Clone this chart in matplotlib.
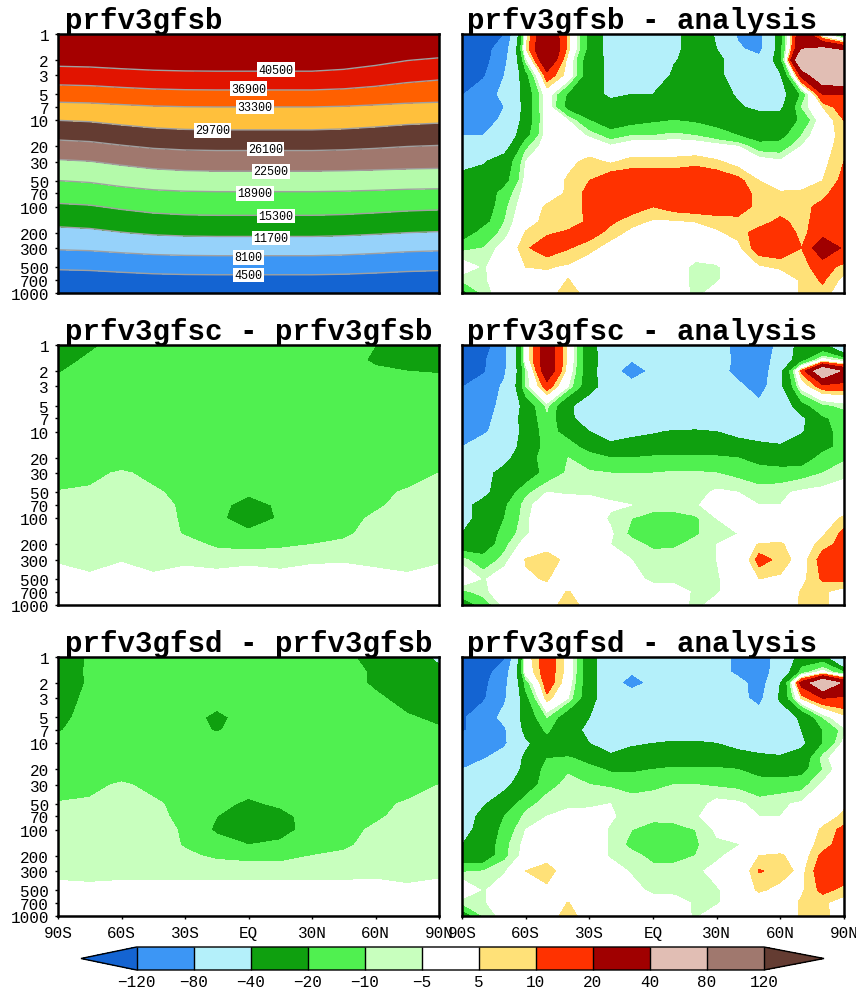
import numpy as np
import matplotlib
matplotlib.use("Agg")
import matplotlib.pyplot as plt
from matplotlib.colors import ListedColormap, BoundaryNorm

W, H = 856, 995

# pressure (hPa) and latitude axes
tick_p = [1, 2, 3, 5, 7, 10, 20, 30, 50, 70, 100, 200, 300, 500, 700, 1000]
tick_lat = [-90, -60, -30, 0, 30, 60, 90]
tick_lat_labels = ["90S", "60S", "30S", "EQ", "30N", "60N", "90N"]

lat_h = [-90, -75, -60, -45, -30, -15, 0, 15, 30, 45, 60, 75, 90]
lat_fine = [-90, -80, -70, -60, -50, -40, -30, -20, -10, 0, 10, 20, 30, 40, 50, 60, 70, 80, 90]
p_fine = [1, 1.5, 2, 3, 5, 7, 10, 15, 20, 30, 50, 70, 100, 150, 200, 300, 500, 700, 1000]

# colour scale for differences
diff_levels = [-120, -80, -40, -20, -10, -5, 5, 10, 20, 40, 80, 120]
diff_colors = ["#1464d2", "#3c96f5", "#b4f0fa", "#0fa00f", "#50f050", "#c8ffbe", "#ffffff",
               "#ffe178", "#ff3200", "#a00000", "#e1beb4", "#a0786e", "#643c32"]

# geopotential height, contour levels and labels
h_levels = [4500, 8100, 11700, 15300, 18900, 22500, 26100, 29700, 33300, 36900, 40500]
h_colors = ["#1464d2", "#3c96f5", "#96d2fa", "#0fa00f", "#50f050", "#b4faaa", "#a0786e",
            "#643c32", "#ffc03c", "#ff6000", "#e11400", "#a50000"]
h_label_lat = [13, 0, 3, -17, 8, 10.5, 3, 13, 10.5, 0, 0][::-1]
h_label_p = [2.6, 4.3, 7, 13, 21.5, 39, 70, 128, 231, 384, 620][::-1]

gfsb_height = [
    [46600, 46735, 47050, 47320, 47455, 47500, 47500, 47500, 47500, 47110, 46330, 45420, 44900],
    [41700, 41835, 42150, 42420, 42555, 42600, 42600, 42600, 42600, 42225, 41475, 40600, 40100],
    [38800, 38940, 39275, 39560, 39700, 39750, 39750, 39750, 39750, 39420, 38760, 37990, 37550],
    [35050, 35200, 35550, 35850, 36000, 36050, 36050, 36050, 36050, 35885, 35555, 35170, 34950],
    [32250, 32410, 32775, 33090, 33250, 33300, 33300, 33300, 33300, 33150, 32850, 32500, 32300],
    [29700, 29950, 30525, 31020, 31270, 31350, 31350, 31350, 31350, 31170, 30810, 30390, 30150],
    [24950, 25235, 25900, 26470, 26755, 26850, 26850, 26850, 26850, 26715, 26445, 26130, 25950],
    [22130, 22430, 23130, 23730, 24030, 24130, 24130, 24130, 24130, 24055, 23905, 23730, 23630],
    [18880, 19180, 19880, 20480, 20780, 20880, 20880, 20880, 20880, 20820, 20700, 20560, 20480],
    [17010, 17250, 17810, 18290, 18530, 18610, 18610, 18610, 18610, 18520, 18340, 18130, 18010],
    [14740, 15040, 15740, 16340, 16640, 16740, 16740, 16740, 16740, 16605, 16335, 16020, 15840],
    [10820, 11060, 11620, 12100, 12340, 12420, 12420, 12420, 12420, 12285, 12015, 11700, 11520],
    [8440, 8605, 8990, 9320, 9485, 9540, 9540, 9540, 9540, 9405, 9135, 8820, 8640],
    [5020, 5170, 5520, 5820, 5970, 6020, 6020, 6020, 6020, 5885, 5615, 5300, 5120],
    [2600, 2740, 3075, 3360, 3500, 3550, 3550, 3550, 3550, 3460, 3280, 3070, 2950],
    [370, 505, 820, 1090, 1225, 1270, 1270, 1270, 1270, 1195, 1045, 870, 770],
]

gfsc_minus_gfsb = [
    [-25, -22, -16, -15, -15, -15, -15, -15, -15, -15, -20, -25, -25],
    [-24, -18, -15, -15, -15, -15, -15, -15, -15, -15, -22, -24, -24],
    [-21, -15, -15, -15, -15, -15, -15, -15, -15, -15, -18, -20, -21],
    [-15, -15, -15, -15, -15, -15, -15, -15, -15, -15, -15, -15, -15],
    [-15, -15, -15, -15, -15, -15, -15, -15, -15, -15, -15, -15, -15],
    [-15, -15, -15, -15, -15, -15, -15, -15, -15, -15, -15, -15, -15],
    [-15, -15, -15, -15, -15, -15, -15, -15, -15, -15, -15, -15, -15],
    [-15, -15, -15, -15, -15, -15, -15, -15, -15, -15, -15, -15, -15],
    [-15, -15, -15, -15, -15, -15, -15, -15, -15, -15, -15, -15, -13],
    [-15, -12, -9, -12, -15, -15, -15, -15, -15, -15, -15, -14, -10],
    [-9.5, -9, -7, -9, -12, -15, -18, -15, -15, -14, -12, -9, -8],
    [-8, -8, -7, -8, -11, -16, -25, -18, -14, -13, -11, -8, -7],
    [-7.5, -7, -7, -7, -11, -18, -25, -19, -13, -12, -9, -7, -7],
    [-7, -7, -7, -7, -10.5, -14, -18, -15, -12, -11, -8, -7, -7],
    [-7, -7, -6, -7, -8, -11, -12, -11, -10, -9, -7, -7, -6],
    [-5.6, -7, -5.5, -7, -6, -7, -6.5, -7, -6, -5.7, -6.5, -7, -6],
    [-3, -4, -2, -4, -3, -3, -2, -3, -2, -2, -3, -4, -2],
    [-1, -1, -1, -1, -1, -1, -1, -1, -1, -1, -1, -1, -1],
    [-1, -1, -1, -1, -1, -1, -1, -1, -1, -1, -1, -1, -1],
]

gfsd_minus_gfsb = [
    [-35, -17, -15, -15, -15, -15, -15, -15, -15, -17, -25, -35, -42],
    [-33, -17, -15, -15, -15, -15, -15, -15, -15, -15, -22, -32, -38],
    [-30, -18, -15, -15, -15, -15, -15, -15, -15, -15, -22, -30, -35],
    [-28, -16, -15, -15, -15, -15, -19, -15, -15, -15, -18, -24, -30],
    [-24, -15, -15, -15, -15, -23, -15, -15, -15, -15, -15, -19, -22],
    [-21, -15, -15, -15, -15, -21, -15, -15, -15, -15, -15, -17, -19],
    [-16, -15, -15, -15, -15, -15, -15, -15, -15, -15, -15, -15, -15],
    [-15, -15, -15, -15, -15, -15, -15, -15, -15, -15, -15, -15, -15],
    [-15, -15, -15, -15, -15, -15, -15, -15, -15, -15, -15, -15, -13],
    [-14, -12, -9, -12, -15, -15, -15, -15, -15, -15, -15, -14, -10],
    [-9.5, -9, -7, -9, -12, -17, -22, -18, -15, -14, -12, -9, -8],
    [-8, -8, -7, -8, -12, -20, -28, -24, -15, -13, -11, -8, -7],
    [-7.5, -7, -7, -7, -11, -22, -28, -26, -14, -12, -9, -7, -7],
    [-7, -7, -7, -7, -10.5, -15, -20, -17, -12, -11, -8, -7, -7],
    [-7, -7, -7, -7, -9, -11, -12, -12, -10, -9, -7, -7, -7],
    [-7, -6.5, -7, -6, -7, -7, -7, -7, -7, -7, -6.5, -7, -6.5],
    [-3, -4, -3, -4, -3, -3, -3, -3, -3, -3, -3, -4, -3],
    [-1, -1, -1, -1, -1, -1, -1, -1, -1, -1, -1, -1, -1],
    [-1, -1, -1, -1, -1, -1, -1, -1, -1, -1, -1, -1, -1],
]

gfsb_minus_analysis = [
    [-140, -140, -120, 2, 35, 8, -25, -50, -55, -60, -45, -30, -42, -85, -90, -25, 35, -5, -25],
    [-140, -135, -100, 4, 40, 7, -25, -50, -60, -60, -45, -30, -40, -75, -90, -25, 40, 45, 35],
    [-135, -135, -90, -8, 35, 2, -30, -45, -60, -60, -42, -30, -30, -60, -70, -25, 65, 70, 70],
    [-130, -125, -80, -25, 15, 2, -30, -45, -60, -60, -35, -30, -30, -60, -60, -42, 25, 60, 62],
    [-122, -100, -70, -30, 0, -22, -30, -45, -40, -40, -33, -30, -33, -42, -50, -50, -18, 20, 20],
    [-100, -100, -80, -30, 0, -25, -30, -30, -30, -30, -30, -30, -30, -38, -45, -45, -10, 5, 15],
    [-85, -100, -70, -30, -1, -5, -20, -30, -25, -22, -20, -22, -25, -30, -30, -30, -18, 0, 10],
    [-80, -80, -60, -25, -1, -1, -6, -14, -10, -10, -8, -10, -15, -20, -28, -25, -10, 2, 7],
    [-65, -60, -50, -12, -1, 0, 0, -4, 0, 0, 0, 0, -2, -5, -15, -15, -5, 2, 8],
    [-50, -42, -30, -5, -1, 3, 7, 4, 7, 7, 7, 8, 6, 2, -1, -4, 0, 3, 10],
    [-30, -30, -25, -3, 0, 6, 10, 15, 15, 15, 15, 16, 15, 12, 5, 0, 2, 5, 12],
    [-30, -30, -15, -2, 1, 6, 12, 15, 16, 16, 16, 16, 16, 15, 7, 6, 6, 8, 15],
    [-30, -30, -12, 0, 6, 8, 11, 15, 13, 10, 13, 14, 14, 15, 7, 6, 8, 12, 15],
    [-30, -25, -10, 2, 7, 7, 11, 11, 7, 4, 4, 5, 7, 7, 7, 12, 7, 15, 18],
    [-30, -15, -8, 5.5, 9, 11, 13, 8, 3, 0, 0, 1, 4, 7, 13, 15, 8, 15, 20],
    [-12, -10, -2, 9, 14, 10.5, 7, 2, 1, 0, 0, 0, 1, 3, 14, 15, 10, 30, 18],
    [-1, -6, 0, 5, 5.5, 4, 0, 0, 0, 0, -1, -7, -6, 0, 4, 6, 8, 13, 8],
    [-8, -6, -1, 0, 3, 5.1, 3, 0, 0, 0, -1, -7, -6, 0, 0, 0, 6, 11, 3],
    [-25, -8, -1, 0, 3, 7, 3, 0, 0, 0, 0, -7, -2, 0, 0, 0, 6, 8, 0],
]

gfsc_minus_analysis = [
    [-140, -140, -90, -1, 30, 3, -30, -60, -60, -60, -60, -60, -60, -95, -125, -60, -30, -35, -75],
    [-135, -125, -90, -1, 30, 3, -30, -55, -78, -60, -60, -60, -60, -90, -105, -60, -25, -1, -10],
    [-130, -125, -85, -10, 30, 1, -30, -60, -105, -70, -60, -60, -60, -95, -110, -45, 12, 60, 35],
    [-122, -100, -75, -10, 15, -5, -30, -55, -60, -60, -60, -60, -60, -70, -100, -45, -1, 15, 15],
    [-95, -95, -70, -30, -8, -35, -55, -60, -60, -60, -60, -60, -60, -60, -70, -60, -25, -12, -8],
    [-95, -95, -60, -30, -12, -32, -60, -60, -60, -60, -60, -60, -60, -60, -60, -60, -45, -22, -15],
    [-85, -85, -65, -30, -15, -25, -40, -50, -45, -42, -38, -37, -40, -45, -50, -50, -42, -25, -15],
    [-80, -62, -52, -32, -15, -15, -25, -35, -32, -30, -28, -28, -30, -33, -35, -38, -30, -25, -15],
    [-60, -55, -45, -30, -12, -10, -15, -20, -20, -18, -18, -18, -18, -20, -25, -28, -30, -15, -11],
    [-55, -45, -35, -30, -15, -9, -9, -10, -10, -10, -9, -9, -10, -12, -15, -15, -13, -10, -7],
    [-50, -45, -30, -12, -5, -6, -6, -7, -7, -7, -8, -7, -4, -5, -7, -6, -4, -3, -1],
    [-45, -35, -22, -7, -1, -1, -2, -4, -5, -8, -8, -6, -1, -1, -5, -5, -1, 0, 1],
    [-45, -35, -20, -6, -1, 0, -1, -6, -10, -12, -12, -11, -5, -2, -1, 0, 0, 2, 6],
    [-40, -32, -15, -6, 0, 0, 0, -4, -12, -14, -14, -11, -6, -5, 0, 0, 0, 4, 12],
    [-30, -30, -12, -2, 2, 0, 0, -5, -7, -12, -11, -8, -5, 0, 5.5, 6, 0, 8, 12],
    [-8, -15, -8, 5.5, 8, 3, 0, 0, -5, -6, -7, -7, -5, -4, 13, 8, 2, 13, 15],
    [3, -6, 0, 4, 5.5, 0, 0, 0, -2, -7, -7, -7, -6, 0, 5, 4, 3, 11, 12],
    [-12, -7, 0, 0, 3, 5.2, 3, 0, 0, -1, -2, -6, -6, 0, 4, 0, 5.5, 6, 2],
    [-30, -15, -3, 0, 3, 7, 3, 0, 0, 0, -1, -7, -2, 0, 0, 0, 6, 7, 0],
]

gfsd_minus_analysis = [
    [-140, -140, -125, 1, 15, 2, -30, -60, -60, -60, -60, -60, -60, -90, -100, -65, -30, -30, -95],
    [-140, -135, -100, -1, 15, 2, -30, -60, -76, -60, -60, -60, -60, -90, -100, -60, -15, -1, -20],
    [-140, -130, -90, -15, 15, 0, -30, -60, -100, -68, -60, -60, -60, -65, -100, -40, 25, 60, 35],
    [-135, -125, -85, -25, 8, -5, -30, -60, -45, -60, -60, -60, -60, -70, -90, -35, 6, 20, 18],
    [-125, -100, -70, -30, -10, -30, -40, -60, -60, -60, -60, -60, -60, -60, -65, -60, -35, -10, 3],
    [-125, -100, -85, -32, -18, -32, -45, -60, -60, -60, -60, -60, -60, -60, -60, -60, -40, -20, -7],
    [-105, -100, -85, -45, -25, -35, -40, -50, -42, -40, -36, -36, -40, -45, -50, -52, -45, -20, -3],
    [-90, -82, -65, -35, -20, -18, -25, -35, -33, -30, -28, -28, -30, -33, -35, -37, -30, -7, 0],
    [-80, -60, -55, -35, -15, -11, -16, -22, -22, -20, -18, -18, -18, -20, -24, -28, -25, -10, 0],
    [-58, -55, -45, -30, -13, -8, -10, -11, -13, -11, -10, -10, -11, -12, -16, -14, -13, -4, 0],
    [-55, -42, -30, -13, -7, -7, -7, -5, -7, -8, -8, -8, -3, -4, -7, -6, -4, -1, 4],
    [-50, -35, -20, -8, -5, -2, -1, -4, -8, -8, -8, -6, -1, -1, -5, -5, -1, 2, 6],
    [-45, -35, -15, -5, -1, -3, 0, -6, -10, -13, -12, -10, -4, -1, 0, 0, 0, 6, 12],
    [-40, -32, -12, -3, 0, -4, 0, -6, -12, -15, -15, -11, -6, -5.5, -1, 0, 2, 7, 14],
    [-30, -30, -12, -2, 3, 0, 0, -6, -8, -12, -12, -10, -7, -1, 5, 6, 1, 12, 15],
    [-11, -10, -6, 5, 7, 2, 0, -1, -6, -8, -8, -7, -2, -2, 10.5, 8, 3, 15, 15],
    [2, -6, 0, 2, 4, 0, 0, 0, -2, -7, -7, -7, -6, 0, 6, 3, 4, 12, 8],
    [-8, -6, 0, 0, 3, 5.1, 3, 0, 0, -1, -2, -6, -6, 0, 0, 0, 6, 6, 2],
    [-30, -10, -2, 0, 3, 6.5, 3, 0, 0, 0, -1, -6, -1, 0, 0, 0, 6, 6, 3],
]


def px_axes(fig, x0, y0, x1, y1):
    return fig.add_axes([x0 / W, 1 - y1 / H, (x1 - x0) / W, (y1 - y0) / H])


def setup(ax, left=False, bottom=False):
    ax.set_xlim(-90, 90)
    ax.set_ylim(3, 0)
    for s in ax.spines.values():
        s.set_linewidth(1.8)
        s.set_zorder(5)
    ax.set_yticks(np.log10(tick_p))
    ax.set_yticklabels([str(p) for p in tick_p] if left else [], **tick_font)
    ax.set_xticks(tick_lat)
    ax.set_xticklabels(tick_lat_labels if bottom else [], **tick_font)
    ax.tick_params(axis="y", length=2.5 if left else 0, width=1, pad=4)
    ax.tick_params(axis="x", length=2.5 if bottom else 0, width=1, pad=4)


tick_font = dict(family="Liberation Mono", fontsize=11.5)
title_font = dict(family="Liberation Mono", fontsize=21, fontweight="bold")

fig = plt.figure(figsize=(W / 100, H / 100), dpi=100)

cmap = ListedColormap(diff_colors[1:-1])
cmap.set_under(diff_colors[0])
cmap.set_over(diff_colors[-1])
norm = BoundaryNorm(diff_levels, cmap.N)

rows = [(35, 294), (346, 606), (658, 917)]
columns = [(58, 439), (462, 844)]

panels = [
    (0, 0, "prfv3gfsb", None, None),
    (0, 1, "prfv3gfsb - analysis", lat_fine, gfsb_minus_analysis),
    (1, 0, "prfv3gfsc - prfv3gfsb", lat_h, gfsc_minus_gfsb),
    (1, 1, "prfv3gfsc - analysis", lat_fine, gfsc_minus_analysis),
    (2, 0, "prfv3gfsd - prfv3gfsb", lat_h, gfsd_minus_gfsb),
    (2, 1, "prfv3gfsd - analysis", lat_fine, gfsd_minus_analysis),
]

mappable = None
for r, c, title, lats, field in panels:
    y0, y1 = rows[r]
    x0, x1 = columns[c]
    ax = px_axes(fig, x0, y0, x1, y1)
    if field is None:
        # height panel has its own colours and labelled contours
        log_p = np.log10(tick_p)
        h_cmap = ListedColormap(h_colors[1:-1])
        h_cmap.set_under(h_colors[0])
        h_cmap.set_over(h_colors[-1])
        ax.contourf(lat_h, log_p, gfsb_height, levels=h_levels, cmap=h_cmap,
                    norm=BoundaryNorm(h_levels, h_cmap.N), extend="both")
        ax.contour(lat_h, log_p, gfsb_height, levels=h_levels, colors="#a0a0a0", linewidths=1)
        for lev, la, pr in zip(h_levels, h_label_lat, h_label_p):
            ax.text(la, np.log10(pr), str(lev), ha="center", va="center", family="Liberation Mono",
                    fontsize=8.5, zorder=4, bbox=dict(fc="white", ec="none", pad=1))
    else:
        mappable = ax.contourf(lats, np.log10(p_fine), field, levels=diff_levels, cmap=cmap,
                               norm=norm, extend="both")
    setup(ax, left=c == 0, bottom=r == 2)
    fig.text((x0 + 7 if c == 0 else x0 + 5) / W, 1 - (y0 - 6) / H, title, ha="left", va="baseline", **title_font)

# colorbar along the bottom
cax = px_axes(fig, 81, 948, 824, 971)
cb = fig.colorbar(mappable, cax=cax, orientation="horizontal", extend="both",
                  extendfrac=(0.0885, 0.0956), spacing="uniform", drawedges=True)
cb.set_ticks(diff_levels)
cb.set_ticklabels([str(v).replace("-", "\u2212") for v in diff_levels], **tick_font)
cb.ax.tick_params(length=0, pad=3)
cb.outline.set_linewidth(1)
cb.dividers.set_linewidth(1)
cb.dividers.set_color("black")

fig.savefig("out.png", dpi=100)
